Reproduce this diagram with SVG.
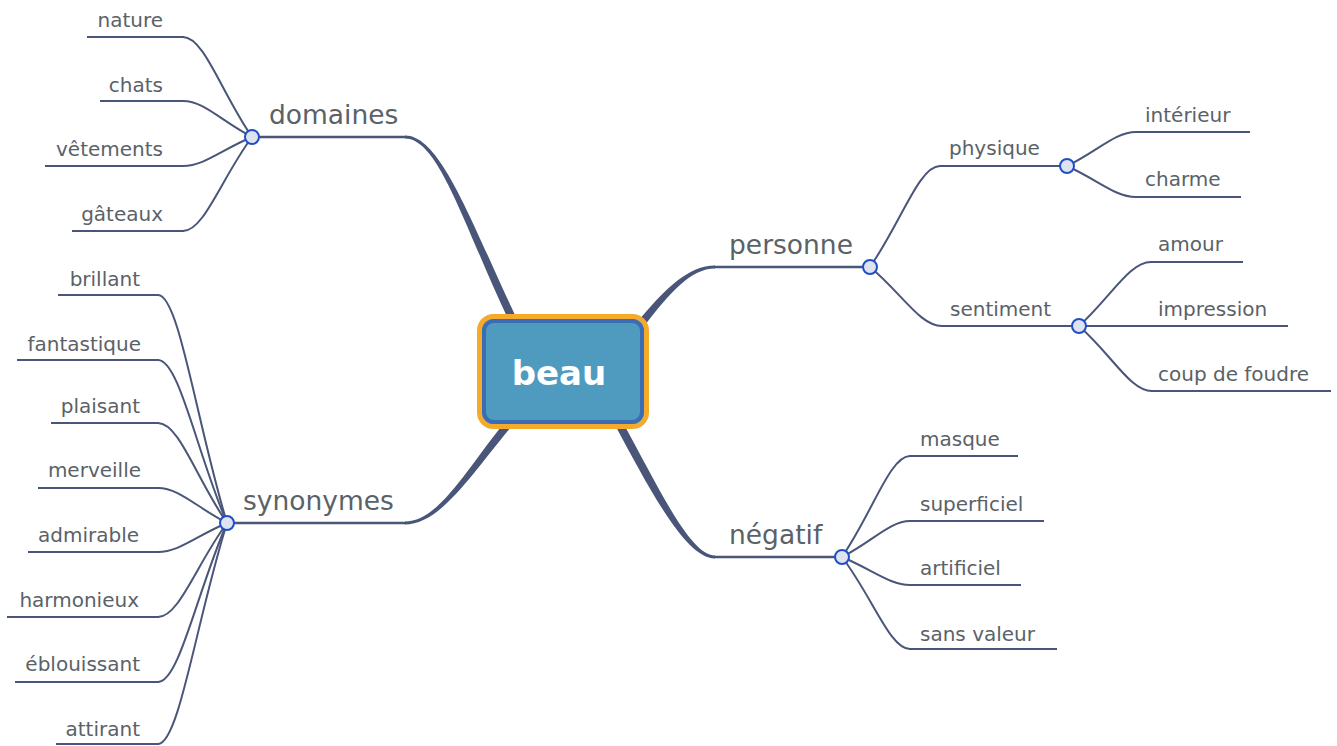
<svg xmlns="http://www.w3.org/2000/svg" width="1337" height="746" viewBox="0 0 1337 746">
<style>
.c{fill:none;stroke:#4a5679;stroke-width:2}
.u{fill:none;stroke:#4a5679;stroke-width:2}
.u1{fill:none;stroke:#4a5679;stroke-width:2.5}
.t{fill:#4a5459;stroke:none}
.main{fill:#4a5679;stroke:none}
.dot{fill:#dfe3ef;stroke:#1f4fc7;stroke-width:2}
text{font-family:"DejaVu Sans","Verdana",sans-serif;fill:#5a6268}
.s{font-size:20px}
.l{font-size:26.5px}
.e{text-anchor:end}
</style>
<rect width="1337" height="746" fill="#ffffff"/>
<g id="connectors">
  <!-- main tapered branches -->
  <path class="main" d="M405,135.5 C441,135.5 471.5,223 515.6,316.3 L508.4,319.7 C464.5,227 439,138.5 405,138.5 Z"/>
  <path class="main" d="M405,521.5 C439,521.5 467,468 506.9,419.4 L513.1,424.6 C473,472 441,524.5 405,524.5 Z"/>
  <path class="main" d="M715,265.5 C689,265.5 665.5,288 636.9,322.5 L643.1,327.5 C670.5,292 691,268.5 715,268.5 Z"/>
  <path class="main" d="M715,555.5 C690,555.5 659,488 621.5,420.1 L614.5,423.9 C651,492 686,558.5 715,558.5 Z"/>
  <!-- domaines children -->
  <path class="c" d="M252,137 C221,92 204,37 183,37"/>
  <path class="c" d="M252,137 C221,121 204,101 183,101"/>
  <path class="c" d="M252,137 C221,150 204,166 183,166"/>
  <path class="c" d="M252,137 C221,179 204,231 183,231"/>
  <!-- synonymes children -->
  <path class="c" d="M227,523 C196,420 179,295 158,295"/>
  <path class="c" d="M227,523 C196,450 179,360 158,360"/>
  <path class="c" d="M227,523 C196,478 179,423 158,423"/>
  <path class="c" d="M227,523 C196,507 179,488 158,488"/>
  <path class="c" d="M227,523 C196,536 179,552 158,552"/>
  <path class="c" d="M227,523 C196,565 179,617 158,617"/>
  <path class="c" d="M227,523 C196,595 179,682 158,682"/>
  <path class="c" d="M227,523 C196,622 179,744 158,744"/>
  <!-- personne children -->
  <path class="c" d="M870,267 C901.5,221.5 919,166 940,166"/>
  <path class="c" d="M870,267 C902,293.5 920,326 942,326"/>
  <!-- physique children -->
  <path class="c" d="M1067,166 C1098,151 1115,132 1136,132"/>
  <path class="c" d="M1067,166 C1098,180 1115,197 1136,197"/>
  <!-- sentiment children -->
  <path class="c" d="M1079,326 C1111,297 1129,262 1151,262"/>
  <path class="c" d="M1079,326 L1140,326"/>
  <path class="c" d="M1079,326 C1112,355 1130,391 1152,391"/>
  <!-- negatif children -->
  <path class="c" d="M842,557 C873,511.5 890,456 910,456"/>
  <path class="c" d="M842,557 C873,541 890,521 910,521"/>
  <path class="c" d="M842,557 C873,570 890,585 910,585"/>
  <path class="c" d="M842,557 C873,598 890,649 910,649"/>
</g>

<g id="node-domaines">
  <line class="u1" x1="252" y1="137" x2="406" y2="137"/>
  <text class="l" x="269" y="124">domaines</text>
  <circle class="dot" cx="252" cy="137" r="7"/>
</g>
<g id="node-nature"><line class="u" x1="87" y1="37" x2="184" y2="37"/><text class="s e" x="163" y="27">nature</text></g>
<g id="node-chats"><line class="u" x1="100" y1="101" x2="184" y2="101"/><text class="s e" x="163" y="92">chats</text></g>
<g id="node-vetements"><line class="u" x1="45" y1="166" x2="184" y2="166"/><text class="s e" x="163" y="156">vêtements</text></g>
<g id="node-gateaux"><line class="u" x1="72" y1="231" x2="184" y2="231"/><text class="s e" x="163" y="221">gâteaux</text></g>

<g id="node-synonymes">
  <line class="u1" x1="227" y1="523" x2="406" y2="523"/>
  <text class="l" x="243" y="510">synonymes</text>
  <circle class="dot" cx="227" cy="523" r="7"/>
</g>
<g id="node-brillant"><line class="u" x1="58" y1="295" x2="159" y2="295"/><text class="s e" x="140" y="286">brillant</text></g>
<g id="node-fantastique"><line class="u" x1="17" y1="360" x2="159" y2="360"/><text class="s e" x="141" y="351">fantastique</text></g>
<g id="node-plaisant"><line class="u" x1="51" y1="423" x2="159" y2="423"/><text class="s e" x="140" y="413">plaisant</text></g>
<g id="node-merveille"><line class="u" x1="38" y1="488" x2="159" y2="488"/><text class="s e" x="141" y="477">merveille</text></g>
<g id="node-admirable"><line class="u" x1="28" y1="552" x2="159" y2="552"/><text class="s e" x="139" y="542">admirable</text></g>
<g id="node-harmonieux"><line class="u" x1="7" y1="617" x2="159" y2="617"/><text class="s e" x="139" y="607">harmonieux</text></g>
<g id="node-eblouissant"><line class="u" x1="15" y1="682" x2="159" y2="682"/><text class="s e" x="140" y="671">éblouissant</text></g>
<g id="node-attirant"><line class="u" x1="56" y1="744" x2="159" y2="744"/><text class="s e" x="140" y="736">attirant</text></g>

<g id="node-personne">
  <line class="u1" x1="714" y1="267" x2="870" y2="267"/>
  <text class="l" x="729" y="254">personne</text>
</g>
<g id="node-physique">
  <line class="u" x1="939" y1="166" x2="1067" y2="166"/>
  <text class="s" x="949" y="155">physique</text>
</g>
<g id="node-interieur"><line class="u" x1="1135" y1="132" x2="1250" y2="132"/><text class="s" x="1145" y="122">intérieur</text></g>
<g id="node-charme"><line class="u" x1="1135" y1="197" x2="1241" y2="197"/><text class="s" x="1145" y="186">charme</text></g>
<g id="node-sentiment">
  <line class="u" x1="941" y1="326" x2="1079" y2="326"/>
  <text class="s" x="950" y="316">sentiment</text>
</g>
<g id="node-amour"><line class="u" x1="1150" y1="262" x2="1243" y2="262"/><text class="s" x="1158" y="251">amour</text></g>
<g id="node-impression"><line class="u" x1="1139" y1="326" x2="1288" y2="326"/><text class="s" x="1158" y="316">impression</text></g>
<g id="node-coup"><line class="u" x1="1151" y1="391" x2="1331" y2="391"/><text class="s" x="1158" y="381">coup de foudre</text></g>

<g id="node-negatif">
  <line class="u1" x1="714" y1="557" x2="842" y2="557"/>
  <text class="l" x="729" y="544">négatif</text>
</g>
<g id="node-masque"><line class="u" x1="909" y1="456" x2="1018" y2="456"/><text class="s" x="920" y="446">masque</text></g>
<g id="node-superficiel"><line class="u" x1="909" y1="521" x2="1044" y2="521"/><text class="s" x="920" y="511">superficiel</text></g>
<g id="node-artificiel"><line class="u" x1="909" y1="585" x2="1021" y2="585"/><text class="s" x="920" y="575">artificiel</text></g>
<g id="node-sansvaleur"><line class="u" x1="909" y1="649" x2="1057" y2="649"/><text class="s" x="920" y="641">sans valeur</text></g>

<g id="toggles">
  <circle class="dot" cx="870" cy="267" r="7"/>
  <circle class="dot" cx="1067" cy="166" r="7"/>
  <circle class="dot" cx="1079" cy="326" r="7"/>
  <circle class="dot" cx="842" cy="557" r="7"/>
</g>

<g id="node-beau">
  <rect x="479.5" y="316.5" width="167" height="110" rx="14" fill="#4f9bc0" stroke="#f5aa2c" stroke-width="5"/>
  <rect x="484" y="321" width="158" height="101" rx="10" fill="#4f9bc0" stroke="#3a6db3" stroke-width="4"/>
  <text x="559" y="385" text-anchor="middle" style="font-size:34px;font-weight:bold;fill:#ffffff">beau</text>
</g>
</svg>
